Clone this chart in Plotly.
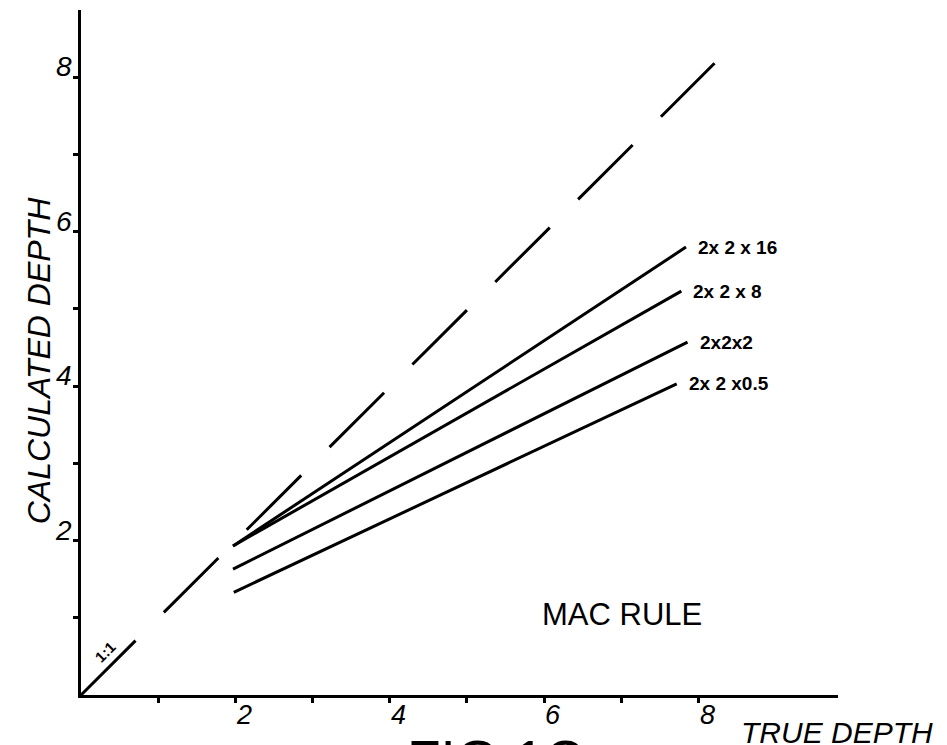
import plotly.graph_objects as go

# Calculated vs. true depth for the MAC rule, array sizes 2 x 2 x N
array_labels = ["2x 2 x 16", "2x 2 x 8", "2x2x2", "2x 2 x0.5"]
true_depth_start = [1.97, 1.97, 1.97, 1.98]
true_depth_end = [7.84, 7.78, 7.86, 7.72]
calc_depth_start = [1.93, 1.93, 1.63, 1.33]
calc_depth_end = [5.80, 5.23, 4.57, 4.03]

# 1:1 reference line
ref_x = [0, 8.21]
ref_y = [0, 8.18]

tick_values = [1, 2, 3, 4, 5, 6, 7, 8]
tick_text = ["", "2", "", "4", "", "6", "", "8"]

FONT = "Liberation Sans"
INK = "#000000"

fig = go.Figure()

fig.add_trace(go.Scatter(
    x=ref_x, y=ref_y, mode="lines",
    line=dict(color=INK, width=3, dash="77px,40px"),
    hoverinfo="skip", showlegend=False,
))

for lab, x0, x1, y0, y1 in zip(array_labels, true_depth_start, true_depth_end,
                               calc_depth_start, calc_depth_end):
    fig.add_trace(go.Scatter(
        x=[x0, x1], y=[y0, y1], mode="lines",
        line=dict(color=INK, width=3),
        name=lab, showlegend=False,
    ))
    fig.add_annotation(
        x=x1, y=y1, text=lab, showarrow=False,
        xanchor="left", yanchor="middle", xshift=10,
        font=dict(family=FONT, size=19, color=INK, weight="bold"),
    )

# tick labels, placed beside their ticks
tick_font = dict(family=FONT, size=27, color=INK, style="italic")
for v, t in zip(tick_values, tick_text):
    if not t:
        continue
    fig.add_annotation(
        x=v, y=0, text=t, showarrow=False,
        xanchor="center", yanchor="top", xshift=9, yshift=-3,
        font=tick_font,
    )
    fig.add_annotation(
        x=0, y=v, text=t, showarrow=False,
        xanchor="right", yanchor="bottom", xshift=-7, yshift=-7,
        font=dict(tick_font, size=28),
    )

fig.add_annotation(
    x=0.42, y=0.5, text="1:1", showarrow=False, textangle=-45,
    xanchor="center", yanchor="middle", xshift=-8, yshift=5,
    font=dict(family=FONT, size=15, color=INK, weight="bold"),
)

fig.add_annotation(
    x=7.01, y=1.04, text="MAC RULE", showarrow=False,
    xanchor="center", yanchor="middle",
    font=dict(family=FONT, size=31, color=INK),
)

fig.add_annotation(
    xref="paper", yref="paper", x=0.869, y=-0.0545,
    text="TRUE DEPTH", showarrow=False, xanchor="left", yanchor="middle",
    font=dict(family=FONT, size=30, color=INK, style="italic"),
)

fig.add_annotation(
    xref="paper", yref="paper", x=-0.056, y=0.488,
    text="CALCULATED DEPTH", showarrow=False, textangle=-90,
    xanchor="center", yanchor="middle",
    font=dict(family=FONT, size=32, color=INK, style="italic"),
)

fig.add_annotation(
    xref="paper", yref="paper", x=0.547, y=-0.046,
    text="FIG 1C", showarrow=False, xanchor="center", yanchor="top",
    font=dict(family=FONT, size=55, color=INK),
)

axis_common = dict(
    showgrid=False, zeroline=False, showline=True,
    linecolor=INK, linewidth=3,
    ticks="outside", ticklen=5, tickwidth=2.5, tickcolor=INK,
    tickmode="array", tickvals=tick_values, showticklabels=False,
)

fig.update_xaxes(range=[0, 9.81], **axis_common)
fig.update_yaxes(range=[0, 8.87], **axis_common)

fig.update_layout(
    width=947, height=745,
    margin=dict(l=81, r=109, t=10, b=50),
    paper_bgcolor="white", plot_bgcolor="white",
    showlegend=False,
)

fig.write_html("out.html")
